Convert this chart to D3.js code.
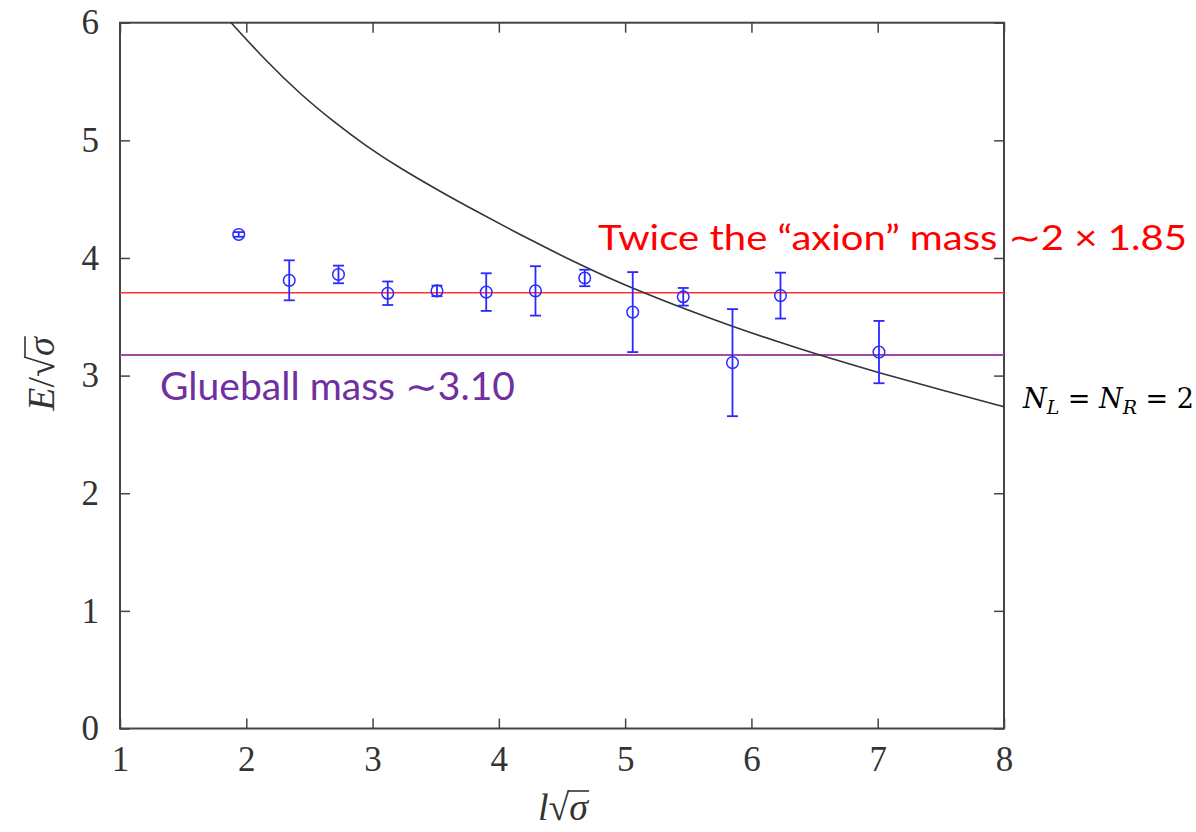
<!DOCTYPE html>
<html>
<head>
<meta charset="utf-8">
<script src="https://cdn.jsdelivr.net/npm/d3@7"></script>
<style>
  body { margin: 0; background: #fff; }
  svg { display: block; }
</style>
</head>
<body>
<svg id="chart" width="1196" height="832"></svg>
<script>
// measured points: l*sqrt(sigma), E/sqrt(sigma), error
const lVals = [1.94, 2.34, 2.73, 3.12, 3.51, 3.90, 4.29, 4.68, 5.06, 5.46, 5.85, 6.23, 7.01];
const eVals = [4.20, 3.81, 3.86, 3.70, 3.72, 3.71, 3.72, 3.83, 3.54, 3.67, 3.11, 3.68, 3.20];
const eErr  = [0.02, 0.17, 0.075, 0.10, 0.045, 0.16, 0.21, 0.07, 0.34, 0.075, 0.455, 0.195, 0.265];

// black curve
const curveL = [1.88, 2.16, 2.43, 2.69, 2.95, 3.22, 3.61, 3.80, 4.06, 4.33, 4.59, 4.85, 5.12, 5.51, 5.83, 6.23, 6.49, 7.02, 7.55, 8.00];
const curveE = [6.00, 5.67, 5.39, 5.16, 4.95, 4.76, 4.52, 4.41, 4.26, 4.11, 3.97, 3.84, 3.715, 3.55, 3.425, 3.28, 3.19, 3.02, 2.865, 2.735];

const axionLevel = 3.705;
const glueballLevel = 3.175;

const xTicks = [1, 2, 3, 4, 5, 6, 7, 8];
const yTicks = [0, 1, 2, 3, 4, 5, 6];

const plotLeft = 120, plotRight = 1004, plotTop = 22.7, plotBottom = 728.5;

const svg = d3.select('#chart');

const x = d3.scaleLinear().domain([1, 8]).range([plotLeft, plotRight]);
const y = d3.scaleLinear().domain([0, 6]).range([plotBottom, plotTop]);

const serif = '"Liberation Serif", "DejaVu Serif", serif';

// axes with inward ticks
const gx = svg.append('g')
  .attr('transform', `translate(0,${plotBottom})`)
  .call(d3.axisBottom(x).tickValues(xTicks).tickSize(-10).tickPadding(18).tickFormat(d3.format('d')));
const gy = svg.append('g')
  .attr('transform', `translate(${plotLeft},0)`)
  .call(d3.axisLeft(y).tickValues(yTicks).tickSize(-10).tickPadding(21).tickFormat(d3.format('d')));
const gxt = svg.append('g')
  .attr('transform', `translate(0,${plotTop})`)
  .call(d3.axisTop(x).tickValues(xTicks).tickSize(-10).tickFormat(''));
const gyr = svg.append('g')
  .attr('transform', `translate(${plotRight},0)`)
  .call(d3.axisRight(y).tickValues(yTicks).tickSize(-10).tickFormat(''));

[gx, gy, gxt, gyr].forEach(g => {
  g.select('.domain').remove();
  g.selectAll('line').attr('stroke', '#444').attr('stroke-width', 1.5);
  g.selectAll('text').attr('font-family', serif).attr('font-size', 35).attr('fill', '#333');
});

// frame
svg.append('rect')
  .attr('x', plotLeft).attr('y', plotTop)
  .attr('width', plotRight - plotLeft).attr('height', plotBottom - plotTop)
  .attr('fill', 'none').attr('stroke', '#444').attr('stroke-width', 2);

// horizontal reference lines
svg.append('line')
  .attr('x1', plotLeft).attr('x2', plotRight)
  .attr('y1', y(axionLevel)).attr('y2', y(axionLevel))
  .attr('stroke', '#ff3030').attr('stroke-width', 1.5);
svg.append('line')
  .attr('x1', plotLeft).attr('x2', plotRight)
  .attr('y1', y(glueballLevel)).attr('y2', y(glueballLevel))
  .attr('stroke', '#a04aa8').attr('stroke-width', 2.2);

// curve
const line = d3.line()
  .x((d, i) => x(curveL[i]))
  .y((d, i) => y(curveE[i]))
  .curve(d3.curveBasis);
svg.append('path')
  .attr('d', line(curveL))
  .attr('fill', 'none')
  .attr('stroke', '#333')
  .attr('stroke-width', 1.6);

// data points with error bars
const blue = '#2a2aff';
const pts = svg.append('g').selectAll('g').data(lVals).join('g');
pts.append('line')
  .attr('x1', d => x(d)).attr('x2', d => x(d))
  .attr('y1', (d, i) => y(eVals[i] + eErr[i]))
  .attr('y2', (d, i) => y(eVals[i] - eErr[i]))
  .attr('stroke', blue).attr('stroke-width', 1.8);
[1, -1].forEach(s => {
  pts.append('line')
    .attr('x1', d => x(d) - 5.5).attr('x2', d => x(d) + 5.5)
    .attr('y1', (d, i) => y(eVals[i] + s * eErr[i]))
    .attr('y2', (d, i) => y(eVals[i] + s * eErr[i]))
    .attr('stroke', blue).attr('stroke-width', 1.8);
});
pts.append('circle')
  .attr('cx', d => x(d))
  .attr('cy', (d, i) => y(eVals[i]))
  .attr('r', 5.8)
  .attr('fill', 'none')
  .attr('stroke', blue).attr('stroke-width', 1.5);

// axis titles: radical bar drawn over the sigma
function radicalTitle(g, parts) {
  const t = g.append('text')
    .attr('text-anchor', 'middle')
    .attr('font-family', serif).attr('font-size', 38).attr('fill', '#333');
  parts.forEach(p => t.append('tspan').attr('font-style', p.italic ? 'italic' : null).text(p.s));
  const txt = t.text();
  const iRad = txt.indexOf('√');
  const node = t.node();
  const rad = node.getExtentOfChar(iRad);
  const last = node.getExtentOfChar(txt.length - 1);
  g.append('line')
    .attr('x1', rad.x + rad.width - 1.5).attr('x2', last.x + last.width + 1)
    .attr('y1', rad.y + 5).attr('y2', rad.y + 5)
    .attr('stroke', '#333').attr('stroke-width', 1.6);
}
radicalTitle(svg.append('g').attr('transform', 'translate(563,820)'),
  [{s: 'l', italic: true}, {s: '√'}, {s: 'σ', italic: true}]);
radicalTitle(svg.append('g').attr('transform', 'translate(54,374) rotate(-90)'),
  [{s: 'E', italic: true}, {s: '/√'}, {s: 'σ', italic: true}]);

// annotations
const sans = 'Lato, "Noto Sans", "Open Sans", sans-serif';
svg.append('text')
  .attr('x', 598).attr('y', 250)
  .attr('font-family', sans).attr('font-size', 35)
  .attr('fill', '#ff0000')
  .attr('textLength', 589).attr('lengthAdjust', 'spacingAndGlyphs')
  .text('Twice the “axion” mass ∼2 × 1.85');
svg.append('text')
  .attr('x', 160).attr('y', 400)
  .attr('font-family', sans).attr('font-size', 38)
  .attr('fill', '#7030a0')
  .attr('textLength', 355).attr('lengthAdjust', 'spacingAndGlyphs')
  .text('Glueball mass ∼3.10');

const nt = svg.append('text')
  .attr('x', 1023).attr('y', 408)
  .attr('font-family', '"DejaVu Serif", serif').attr('font-size', 27)
  .attr('fill', '#000');
nt.append('tspan').attr('font-style', 'italic').text('N');
nt.append('tspan').attr('font-style', 'italic').attr('font-size', 19).attr('dy', 6).text('L');
nt.append('tspan').attr('dy', -6).text(' = ');
nt.append('tspan').attr('font-style', 'italic').text('N');
nt.append('tspan').attr('font-style', 'italic').attr('font-size', 19).attr('dy', 6).text('R');
nt.append('tspan').attr('dy', -6).text(' = 2');
</script>
</body>
</html>
